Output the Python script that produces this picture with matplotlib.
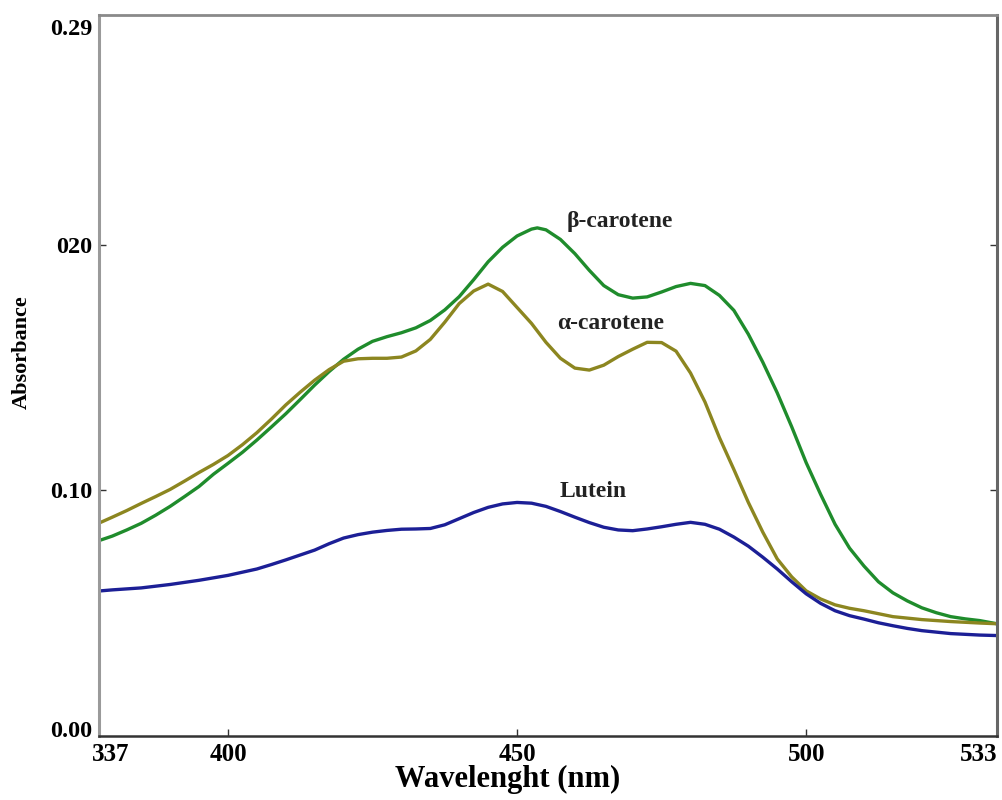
import matplotlib
matplotlib.use("Agg")
import matplotlib.pyplot as plt
import matplotlib.transforms as mtransforms

# Absorption spectra of carotenoid standards
wl_beta = [378, 380, 382.5, 385, 387.5, 390, 392.5, 395, 397.5, 400, 402.5, 405, 407.5,
           410, 412.5, 415, 417.5, 420, 422.5, 425, 427.5, 430, 432.5, 435, 437.5, 440,
           442.5, 445, 447.5, 450, 452.5, 453.5, 455, 457.5, 460, 462.5, 465, 467.5, 470,
           472.5, 475, 477.5, 480, 482.5, 485, 487.5, 490, 492.5, 495, 497.5, 500, 502.5,
           505, 507.5, 510, 512.5, 515, 517.5, 520, 522.5, 525, 527.5, 530, 533]
beta_carotene = [0.0798, 0.0814, 0.0839, 0.0866, 0.0899, 0.0935, 0.0975, 0.1016, 0.1066,
                 0.1110, 0.1155, 0.1205, 0.1258, 0.1312, 0.1370, 0.1429, 0.1484, 0.1534,
                 0.1575, 0.1607, 0.1626, 0.1642, 0.1662, 0.1692, 0.1735, 0.1789, 0.1858,
                 0.1931, 0.1990, 0.2036, 0.2064, 0.2069, 0.2061, 0.2022, 0.1964, 0.1896,
                 0.1834, 0.1797, 0.1783, 0.1788, 0.1808, 0.1830, 0.1843, 0.1834, 0.1794,
                 0.1733, 0.1636, 0.1522, 0.1397, 0.1259, 0.1113, 0.0984, 0.0862, 0.0765,
                 0.0692, 0.0628, 0.0583, 0.0550, 0.0522, 0.0502, 0.0486, 0.0477, 0.0470,
                 0.0457]

wl_alpha = [378, 380, 382.5, 385, 387.5, 390, 392.5, 395, 397.5, 400, 402.5, 405, 407.5,
            410, 412.5, 415, 417.5, 420, 422.5, 425, 427.5, 430, 432.5, 435, 437.5, 440,
            442.5, 445, 447.5, 450, 452.5, 455, 457.5, 460, 462.5, 465, 467.5, 470, 472.5,
            475, 477.5, 480, 482.5, 485, 487.5, 490, 492.5, 495, 497.5, 500, 502.5, 505,
            507.5, 510, 512.5, 515, 517.5, 520, 525, 530, 533]
alpha_carotene = [0.0870, 0.0891, 0.0918, 0.0947, 0.0975, 0.1004, 0.1038, 0.1073, 0.1106,
                  0.1142, 0.1186, 0.1235, 0.1290, 0.1348, 0.1400, 0.1449, 0.1492, 0.1526,
                  0.1536, 0.1538, 0.1538, 0.1543, 0.1568, 0.1615, 0.1685, 0.1761, 0.1812,
                  0.1840, 0.1810, 0.1745, 0.1680, 0.1603, 0.1538, 0.1498, 0.1490, 0.1510,
                  0.1545, 0.1575, 0.1603, 0.1602, 0.1567, 0.1478, 0.1360, 0.1215, 0.1085,
                  0.0951, 0.0830, 0.0721, 0.0648, 0.0591, 0.0558, 0.0534, 0.0520, 0.0510,
                  0.0498, 0.0486, 0.0480, 0.0474, 0.0466, 0.0460, 0.0457]

wl_lutein = [378, 380, 385, 390, 395, 400, 405, 407.5, 410, 412.5, 415, 417.5, 420, 422.5,
             425, 427.5, 430, 432.5, 435, 437.5, 440, 442.5, 445, 447.5, 450, 452.5, 455,
             457.5, 460, 462.5, 465, 467.5, 470, 472.5, 475, 477.5, 480, 482.5, 485, 487.5,
             490, 492.5, 495, 497.5, 500, 502.5, 505, 507.5, 510, 512.5, 515, 517.5, 520,
             525, 530, 533]
lutein = [0.0591, 0.0595, 0.0603, 0.0617, 0.0634, 0.0654, 0.0680, 0.0698, 0.0717, 0.0737,
          0.0757, 0.0783, 0.0806, 0.0820, 0.0830, 0.0837, 0.0842, 0.0843, 0.0845, 0.0860,
          0.0885, 0.0910, 0.0931, 0.0945, 0.0951, 0.0948, 0.0935, 0.0914, 0.0891, 0.0869,
          0.0850, 0.0839, 0.0836, 0.0843, 0.0852, 0.0862, 0.0870, 0.0862, 0.0842, 0.0810,
          0.0773, 0.0728, 0.0680, 0.0628, 0.0579, 0.0540, 0.0510, 0.0490, 0.0476, 0.0461,
          0.0449, 0.0438, 0.0429, 0.0417, 0.0411, 0.0409]

x_ticks = [377.7, 400, 450, 500, 533]
x_tick_labels = ["337", "400", "450", "500", "533"]
y_ticks = [0.0, 0.10, 0.20, 0.29]
y_tick_labels = ["0.00", "0.10", "020", "0.29"]

labels = ["\u03b2-carotene", "\u03b1-carotene", "Lutein"]
label_pos = [(467.8, 0.2097), (466.1, 0.1680), (463.1, 0.0996)]

green = "#1f8c2c"
olive = "#8c8620"
navy = "#1c1f96"

plt.rcParams["font.family"] = ["Liberation Serif", "DejaVu Serif"]
plt.rcParams["font.weight"] = "bold"

fig = plt.figure(figsize=(10.03, 8.0), dpi=100)
ax = fig.add_axes([0.0987, 0.08, 0.8953, 0.901])

line_kw = dict(lw=2.4, solid_joinstyle="round", solid_capstyle="round")
ax.plot(wl_beta, beta_carotene, color=green, **line_kw)
ax.plot(wl_alpha, alpha_carotene, color=olive, **line_kw)
ax.plot(wl_lutein, lutein, color=navy, **line_kw)

for text, (x, y) in zip(labels, label_pos):
    ax.text(x, y, text, ha="center", va="center", fontsize=17, fontweight="bold",
            color="#222222")

ax.set_xlim(377.7, 533)
ax.set_ylim(0.0008, 0.2935)

ax.set_xticks(x_ticks)
ax.set_xticklabels(x_tick_labels, fontsize=18, fontweight="bold")
ax.set_yticks(y_ticks)
ax.set_yticklabels(y_tick_labels, fontsize=17.5, fontweight="bold")

ax.tick_params(axis="x", direction="in", length=5, width=1, pad=5, color="#333333")
ax.tick_params(axis="y", direction="in", length=5, width=1, pad=5, color="#333333",
               right=True)

# hide tick marks at the axis ends
xt = ax.xaxis.get_major_ticks()
for i in (0, len(xt) - 1):
    xt[i].tick1line.set_visible(False)
    xt[i].tick2line.set_visible(False)
yt = ax.yaxis.get_major_ticks()
for i in (0, len(yt) - 1):
    yt[i].tick1line.set_visible(False)
    yt[i].tick2line.set_visible(False)

# end labels sit just inside the frame
xl = ax.get_xticklabels()
xl[0].set_horizontalalignment("left")
xl[0].set_transform(xl[0].get_transform() +
                    mtransforms.ScaledTranslation(-7 / 100, 0, fig.dpi_scale_trans))
xl[-1].set_horizontalalignment("right")
yl = ax.get_yticklabels()
yl[0].set_transform(yl[0].get_transform() +
                    mtransforms.ScaledTranslation(0, 7 / 100, fig.dpi_scale_trans))
yl[-1].set_transform(yl[-1].get_transform() +
                     mtransforms.ScaledTranslation(0, -3 / 100, fig.dpi_scale_trans))

ax.spines["left"].set_color("#9a9a9a")
ax.spines["left"].set_linewidth(2.2)
ax.spines["top"].set_color("#8a8a8a")
ax.spines["top"].set_linewidth(2.0)
ax.spines["right"].set_color("#666666")
ax.spines["right"].set_linewidth(2.2)
ax.spines["bottom"].set_color("#333333")
ax.spines["bottom"].set_linewidth(1.8)

ax.set_xlabel("Wavelenght (nm)", fontsize=22, fontweight="bold")
ax.xaxis.set_label_coords(0.455, -0.040)
ax.set_ylabel("Absorbance", fontsize=16, fontweight="bold")
ax.yaxis.set_label_coords(-0.075, 0.533)

fig.savefig("out.png", dpi=100)
